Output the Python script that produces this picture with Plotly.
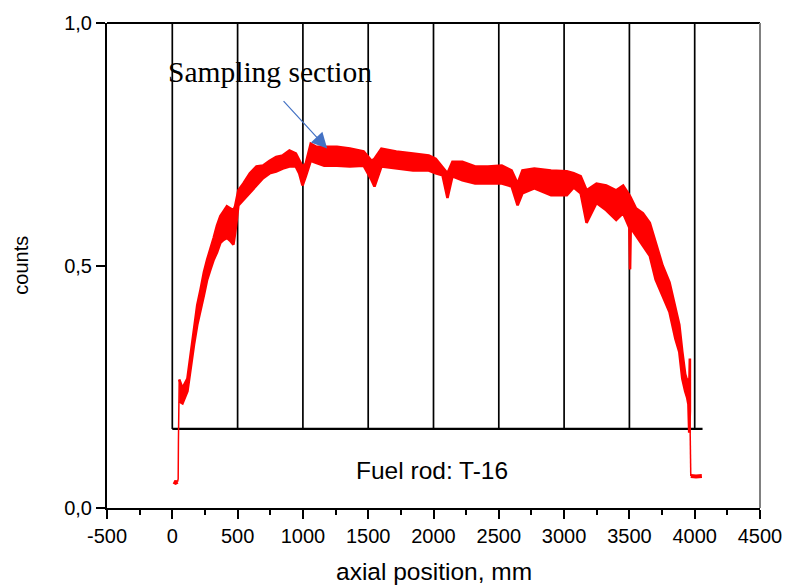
import plotly.graph_objects as go

# ---------------- data ----------------
# main red band: axial position (mm), upper and lower envelope of the noisy signal
pos_mm = [53, 78, 116, 141, 166, 191, 217, 242, 267, 292, 317, 342, 368, 393, 418, 443, 468, 481,
          506, 544, 594, 644, 695, 745, 795, 846, 897, 946, 972, 997, 1022, 1060, 1100, 1163, 1261,
          1360, 1465, 1526, 1548, 1601, 1715, 1843, 1964, 2017, 2069, 2107, 2145, 2221, 2319, 2417,
          2523, 2598, 2644, 2681, 2772, 2900, 3021, 3074, 3127, 3172, 3248, 3323, 3399, 3452, 3500,
          3505, 3510, 3550, 3603, 3656, 3701, 3754, 3807, 3852, 3882, 3905, 3927, 3943, 3952, 3958, 3963]
upper = [0.265, 0.247, 0.267, 0.316, 0.369, 0.418, 0.451, 0.486, 0.512, 0.533, 0.557, 0.582, 0.602, 0.612,
         0.622, 0.618, 0.614, 0.622, 0.655, 0.669, 0.690, 0.704, 0.706, 0.716, 0.724, 0.727, 0.737, 0.731,
         0.716, 0.704, 0.710, 0.751, 0.745, 0.745, 0.745, 0.741, 0.735, 0.716, 0.720, 0.741, 0.735, 0.731,
         0.727, 0.720, 0.704, 0.690, 0.714, 0.714, 0.704, 0.704, 0.706, 0.696, 0.669, 0.696, 0.700, 0.696,
         0.694, 0.690, 0.684, 0.655, 0.669, 0.665, 0.655, 0.665, 0.645, 0.640, 0.640, 0.618, 0.608, 0.588,
         0.547, 0.500, 0.465, 0.410, 0.378, 0.322, 0.276, 0.261, 0.267, 0.240, 0.308]
lower = [0.220, 0.216, 0.241, 0.288, 0.337, 0.378, 0.410, 0.439, 0.471, 0.492, 0.512, 0.527, 0.547, 0.553,
         0.557, 0.551, 0.543, 0.567, 0.624, 0.635, 0.649, 0.665, 0.680, 0.690, 0.694, 0.700, 0.704, 0.704,
         0.690, 0.665, 0.684, 0.716, 0.712, 0.706, 0.706, 0.704, 0.706, 0.676, 0.663, 0.704, 0.700, 0.696,
         0.696, 0.690, 0.686, 0.639, 0.684, 0.676, 0.669, 0.669, 0.669, 0.663, 0.624, 0.649, 0.659, 0.645,
         0.645, 0.661, 0.649, 0.588, 0.629, 0.614, 0.594, 0.608, 0.578, 0.492, 0.578, 0.561, 0.541, 0.520,
         0.471, 0.439, 0.404, 0.349, 0.322, 0.267, 0.241, 0.227, 0.214, 0.155, 0.200]

# flat background tails at both ends of the rod scan
left_tail_x = [10, 25, 40]
left_tail_y = [0.054, 0.052, 0.054]
left_rise_x = [40, 45, 47, 53]
left_rise_y = [0.054, 0.060, 0.140, 0.265]
right_drop_x = [3963, 3966, 3970]
right_drop_y = [0.200, 0.120, 0.066]
right_tail_x = [3970, 4010, 4055]
right_tail_y = [0.066, 0.065, 0.066]

# sampling sections
section_bounds = [0, 500, 1000, 1500, 2000, 2500, 3000, 3500, 4000]
section_floor = 0.163
section_end = 4060

x_tick_vals = [-500, 0, 500, 1000, 1500, 2000, 2500, 3000, 3500, 4000, 4500]
x_tick_text = ["-500", "0", "500", "1000", "1500", "2000", "2500", "3000", "3500", "4000", "4500"]
y_tick_vals = [0.0, 0.5, 1.0]
y_tick_text = ["0,0", "0,5", "1,0"]

RED = "#ff0000"
fig = go.Figure()

# section grid (black)
for b in section_bounds:
    fig.add_trace(go.Scatter(x=[b, b], y=[section_floor, 1.0], mode="lines",
                             line=dict(color="black", width=1.7), hoverinfo="skip", showlegend=False))
fig.add_trace(go.Scatter(x=[section_bounds[0], section_end], y=[section_floor, section_floor], mode="lines",
                         line=dict(color="black", width=2.2), hoverinfo="skip", showlegend=False))

# red signal band
fig.add_trace(go.Scatter(x=pos_mm + pos_mm[::-1], y=upper + lower[::-1], mode="lines", fill="toself",
                         fillcolor=RED, line=dict(color=RED, width=2.6), hoverinfo="skip", showlegend=False))
fig.add_trace(go.Scatter(x=left_tail_x, y=left_tail_y, mode="lines", line=dict(color=RED, width=4),
                         showlegend=False, hoverinfo="skip"))
fig.add_trace(go.Scatter(x=left_rise_x, y=left_rise_y, mode="lines", line=dict(color=RED, width=1.5),
                         showlegend=False, hoverinfo="skip"))
fig.add_trace(go.Scatter(x=right_drop_x, y=right_drop_y, mode="lines", line=dict(color=RED, width=1.5),
                         showlegend=False, hoverinfo="skip"))
fig.add_trace(go.Scatter(x=right_tail_x, y=right_tail_y, mode="lines", line=dict(color=RED, width=4),
                         showlegend=False, hoverinfo="skip"))

fig.update_layout(
    width=794, height=586,
    margin=dict(l=107, r=25, t=18, b=78),
    paper_bgcolor="white", plot_bgcolor="white",
    font=dict(family="Liberation Sans, Arial", color="black"),
    xaxis=dict(range=[-500, 4500], showgrid=False, zeroline=False,
               showline=True, linecolor="black", linewidth=2,
               ticks="outside", ticklen=9, tickwidth=1.8, tickcolor="black",
               tickvals=x_tick_vals, ticktext=x_tick_text,
               tickfont=dict(size=20, family="Liberation Sans, Arial"),
               minor=dict(ticks="outside", ticklen=5, tickwidth=1.5, tickcolor="black",
                          tick0=-500, dtick=250, showgrid=False)),
    yaxis=dict(range=[0, 1], showgrid=False, zeroline=False,
               showline=True, linecolor="black", linewidth=2,
               ticks="outside", ticklen=9, tickwidth=1.8, tickcolor="black",
               tickvals=y_tick_vals, ticktext=y_tick_text,
               tickfont=dict(size=20, family="Liberation Sans, Arial")),
    shapes=[
        dict(type="line", xref="paper", yref="paper", x0=0, x1=1, y0=1, y1=1,
             line=dict(color="black", width=2)),
        dict(type="line", xref="paper", yref="paper", x0=1, x1=1, y0=0, y1=1,
             line=dict(color="#808080", width=2)),
    ],
    annotations=[
        dict(text="counts", xref="paper", yref="paper", x=-0.133, y=0.5, textangle=-90,
             showarrow=False, xanchor="center", yanchor="middle",
             font=dict(size=20, family="Liberation Sans, Arial")),
        dict(text="axial position, mm", xref="paper", yref="paper", x=0.5, y=-0.1306,
             showarrow=False, xanchor="center", yanchor="middle",
             font=dict(size=24.5, family="Liberation Sans, Arial")),
        dict(text="Fuel rod: T-16", x=1986, y=0.078, xref="x", yref="y", showarrow=False,
             xanchor="center", yanchor="middle", font=dict(size=24.5, family="Liberation Sans, Arial")),
        dict(text="Sampling section", x=748, y=0.90, xref="x", yref="y", showarrow=False,
             xanchor="center", yanchor="middle", font=dict(size=29.5, family="Liberation Serif, Times New Roman")),
        dict(text="", x=1186, y=0.741, xref="x", yref="y", showarrow=True, ax=-45, ay=-49,
             arrowhead=2, arrowsize=2.6, arrowwidth=1.2, arrowcolor="#4472C4", standoff=0),
    ],
)

fig.write_html("out.html")
